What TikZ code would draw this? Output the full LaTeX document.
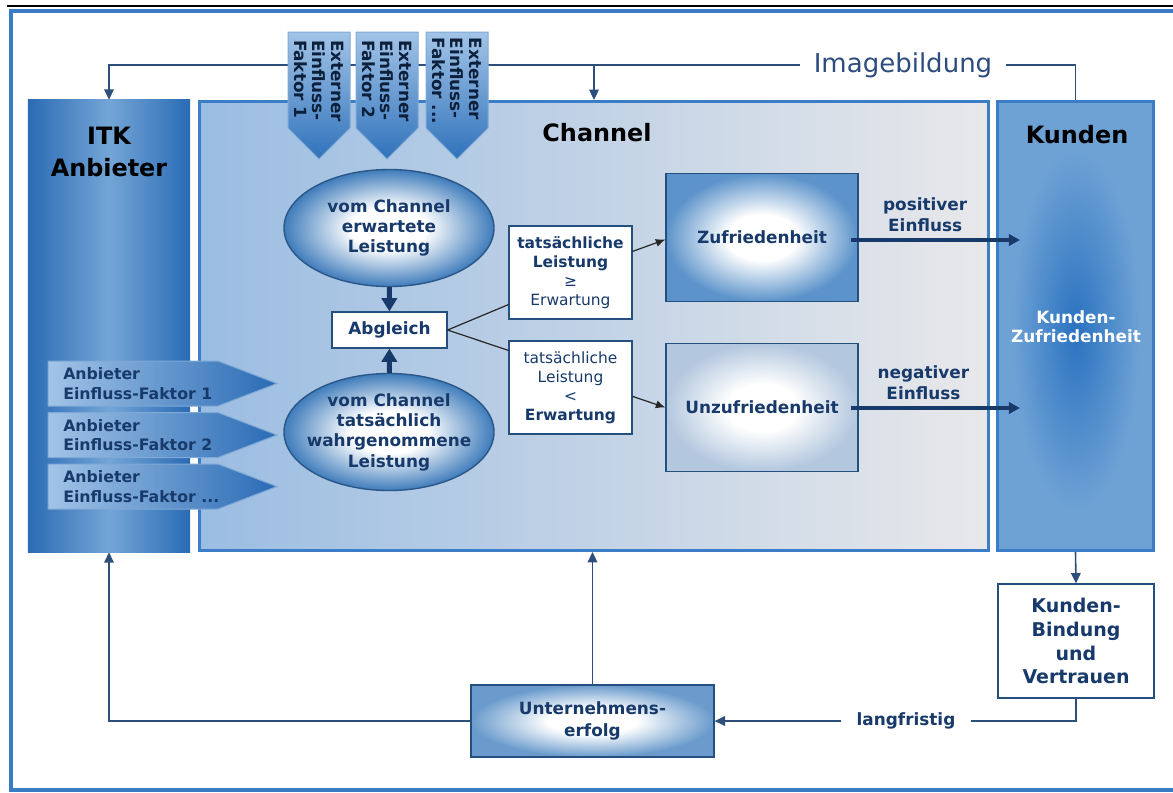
\documentclass[tikz,border=0pt]{standalone}
\usepackage{fontspec}
\setmainfont{DejaVu Sans}
\usetikzlibrary{shapes,arrows.meta,positioning,calc}

\definecolor{framecol}{HTML}{3A7CC4}
\definecolor{itkdark}{HTML}{2A6BB5}
\definecolor{itklight}{HTML}{74A5D6}
\definecolor{chanleft}{HTML}{9BBDE2}
\definecolor{chanright}{HTML}{E8E8EA}
\definecolor{chanline}{HTML}{3B7DC6}
\definecolor{kundfill}{HTML}{6EA2D5}
\definecolor{kundcore}{HTML}{2A72C0}
\definecolor{tablight}{HTML}{A2C4E7}
\definecolor{tabdark}{HTML}{3072BB}
\definecolor{tabline}{HTML}{7FA9D6}
\definecolor{textnavy}{HTML}{173A6B}
\definecolor{linkcol}{HTML}{2E4F79}
\definecolor{imgcol}{HTML}{2B4C7D}
\definecolor{ovalrim}{HTML}{3F7CBB}
\definecolor{ovalline}{HTML}{2B5788}
\definecolor{zufrim}{HTML}{5C93CA}
\definecolor{unzufrim}{HTML}{B3C7DE}
\definecolor{erfolgrim}{HTML}{6A9BCC}
\definecolor{boxline}{HTML}{24507F}

% white core, coloured rim
\colorlet{glowrim}{zufrim}
\pgfdeclareradialshading[glowrim]{glow}{\pgfpoint{0bp}{0bp}}{%
  color(0bp)=(white); color(9bp)=(white); color(25bp)=(glowrim); color(50bp)=(glowrim)}

\tikzset{
  colbox/.style={inner sep=0, minimum height=112.25mm},
  coltitle/.style={font=\bfseries\fontsize{17}{22.5}\selectfont, align=center, text=black},
  txt/.style={font=\bfseries\fontsize{12}{14.5}\selectfont, align=center, text=textnavy},
  whitebox/.style={draw=boxline, fill=white, line width=0.3mm, inner sep=0, txt},
  glowbox/.style={draw=boxline, line width=0.3mm, shading=glow, /utils/exec={\colorlet{glowrim}{#1}},
    minimum width=48mm, minimum height=32mm, inner sep=0, txt},
  oval/.style={ellipse, draw=ovalline, line width=0.35mm, shading=glow, /utils/exec={\colorlet{glowrim}{ovalrim}},
    minimum width=52.5mm, minimum height=29.25mm, inner sep=0},
  extab/.style={top color=tablight, bottom color=tabdark, draw=tabline, line width=0.25mm},
  extabtext/.style={rotate=-90, align=left, inner sep=0, text=textnavy!55!black,
    font=\bfseries\fontsize{12}{13.2}\selectfont},
  anbarrow/.style={left color=tablight, right color=itkdark, draw=tabline, line width=0.25mm},
  anbtext/.style={anchor=west, align=left, inner sep=0, text=textnavy,
    font=\bfseries\fontsize{11.2}{13.8}\selectfont},
  link/.style={draw=linkcol, line width=0.4mm, -{Triangle[width=2.4mm,length=2.6mm]}},
  bigarrow/.style={draw=textnavy, line width=1.25mm, -{Triangle[width=3.8mm,length=3.3mm]}},
  einfluss/.style={draw=textnavy, line width=1mm, -{Triangle[width=2.8mm,length=2.8mm]}},
  splitline/.style={draw=black!85, line width=0.3mm},
  condbox/.style={minimum width=30.75mm, minimum height=23.25mm, font=\fontsize{11}{13.5}\selectfont}
}

\begin{document}
\begin{tikzpicture}[x=0.25mm, y=-0.25mm]
    \useasboundingbox (0,0) rectangle (1173,792);

    % outer frame
    \draw[black, line width=0.35mm] (7,6) -- (1173,6);
    \draw[framecol, line width=1mm] (1173,11) -- (11,11) -- (11,790) -- (1173,790);

    % the three columns
    \node[colbox, left color=itkdark, right color=itkdark, middle color=itklight,
          minimum width=40.5mm, minimum height=113mm] (itk) at (109,326) {};
    \node[colbox, draw=chanline, line width=0.75mm, left color=chanleft, right color=chanright,
          minimum width=197.25mm] (channel) at (594,326) {};
    \node[colbox, draw=chanline, line width=0.75mm, fill=kundfill,
          minimum width=39mm] (kunden) at (1075.5,326) {};
    \shade[inner color=kundcore, outer color=kundfill] (1076,330) ellipse [x radius=16mm, y radius=45mm];

    \node[coltitle] (itktitle) at (109,152) {ITK\\Anbieter};
    \node[coltitle] (chantitle) at (597,133) {Channel};
    \node[coltitle] (kundtitle) at (1077,135) {Kunden};
    \node[txt, text=white, font=\bfseries\fontsize{12}{13.5}\selectfont] (kundsat) at (1076,327) {Kunden-\\Zufriedenheit};

    % Imagebildung
    \draw[link] (kunden.north) -- ++(0,-35) coordinate (imgr) -| (itk.north);
    \draw[link] (channel.north |- imgr) -- (channel.north);
    \node[fill=white, text=imgcol, font=\fontsize{18.5}{21}\selectfont, inner xsep=3.5mm, inner ysep=2.5mm]
          (imgtxt) at (903,65) {Imagebildung};

    % external factors
    \foreach \x/\n [count=\i] in {319/1, 387/2, 457/{.{}.{}.}} {
        \shade[extab] (\x-31,32) -- (\x+31,32) -- (\x+31,128) -- (\x,159) -- (\x-31,128) -- cycle;
        \node[extabtext] (ext\i) at (\x,81) {Externer\\Einfluss-\\Faktor \n};
    }

    % provider factors
    \foreach \y/\n [count=\i] in {383.5/1, 435/2, 486.5/{.{}.{}.}} {
        \shade[anbarrow] (48,\y-22.5) -- (218,\y-22.5) -- (277,\y) -- (218,\y+22.5) -- (48,\y+22.5) -- cycle;
        \node[anbtext] (anb\i) at (63,\y) {Anbieter\\Einfluss-Faktor \n};
    }

    % expected vs. perceived
    \node[oval] (erwartet) at (389,228) {};
    \node[txt] (erwartettxt) at (erwartet) {vom Channel\\erwartete\\Leistung};
    \node[oval] (wahr) at (389,432) {};
    \node[txt] (wahrtxt) at (wahr) {vom Channel\\tatsächlich\\wahrgenommene\\Leistung};

    \node[whitebox, minimum width=28.75mm, minimum height=9mm] (abgleich) at (389.5,330) {Abgleich};
    \draw[bigarrow] (erwartet) -- (abgleich);
    \draw[bigarrow] (wahr) -- (abgleich);

    \node[whitebox, condbox] (cond1) at (570.5,272.5) {\textbf{tatsächliche}\\\textbf{Leistung}\\≥\\Erwartung};
    \node[whitebox, condbox] (cond2) at (570.5,387.5) {tatsächliche\\Leistung\\<\\\textbf{Erwartung}};
    \draw[splitline] (abgleich.east) -- ($(cond1.south west)+(0,-15)$);
    \draw[splitline] (abgleich.east) -- ($(cond2.north west)+(0,10)$);

    \node[glowbox=zufrim] (zuf) at (762,237.5) {Zufriedenheit};
    \node[glowbox=unzufrim] (unzuf) at (762,407.5) {Unzufriedenheit};
    \draw[splitline, -{Latex[length=2.4mm,width=2mm]}] ($(cond1.north east)+(0,26)$) -- ($(zuf.west)+(0,2)$);
    \draw[splitline, -{Latex[length=2.4mm,width=2mm]}] ($(cond2.north east)+(0,56)$) -- (unzuf.west);

    \draw[einfluss] ($(zuf.east)+(-8,2.5)$) -- ($(zuf.east -| kunden.west)+(24,2.5)$)
        node[pos=0.44, above=0.5mm, txt] (posinfl) {positiver\\Einfluss};
    \draw[einfluss] ($(unzuf.east)+(-8,0.5)$) -- ($(unzuf.east -| kunden.west)+(24,0.5)$)
        node[pos=0.43, above=0.5mm, txt] (neginfl) {negativer\\Einfluss};

    % loyalty and company success
    \node[whitebox, minimum width=39mm, minimum height=28.5mm,
          font=\bfseries\fontsize{13.5}{17}\selectfont] (bind) at (1076,641) {Kunden-\\Bindung\\und\\Vertrauen};
    \node[glowbox=erfolgrim, minimum width=60.75mm, minimum height=18mm,
          font=\bfseries\fontsize{12}{16}\selectfont] (erfolg) at (592.5,721) {Unternehmens-\\erfolg};

    \draw[link] (kunden.south) -- (bind.north);
    \draw[link] (bind.south) |- (erfolg.east);
    \node[txt, fill=white, inner xsep=4mm, inner ysep=2mm] (lang) at (906,721) {langfristig};
    \draw[link] (erfolg.west) -| (itk.south);
    \draw[link] (erfolg.north) -- (erfolg.north |- channel.south);
\end{tikzpicture}
\end{document}
